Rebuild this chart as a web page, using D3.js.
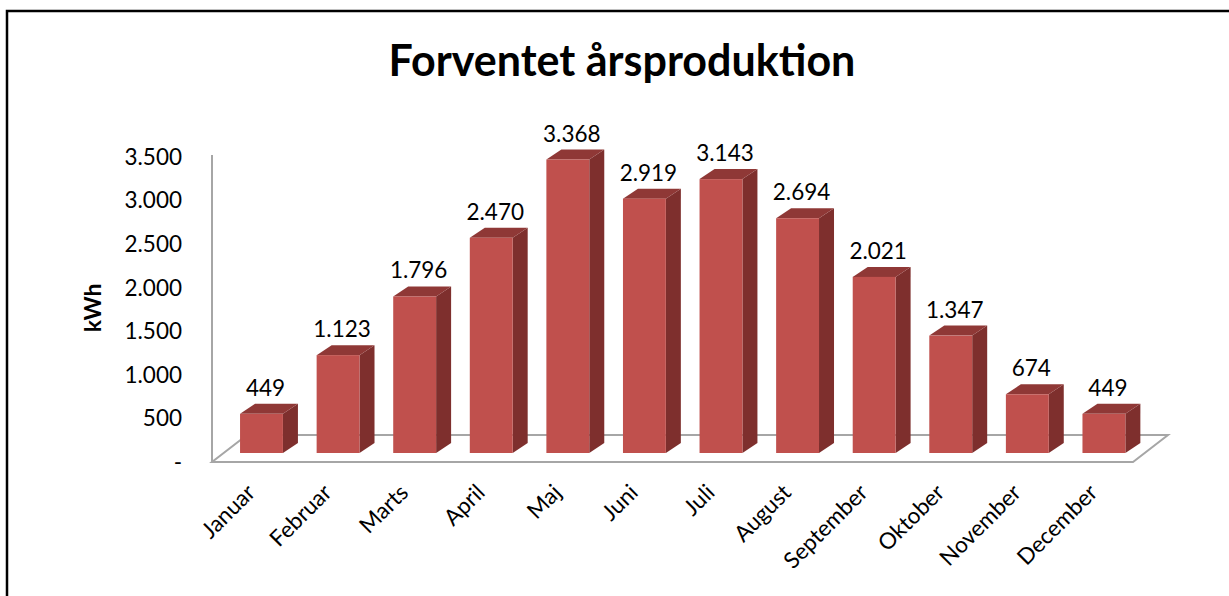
<!DOCTYPE html>
<html><head><meta charset="utf-8">
<script src="https://cdn.jsdelivr.net/npm/d3@7"></script>
<style>body{margin:0;background:#fff}svg{display:block}</style>
</head><body>
<script>
const months = ["Januar","Februar","Marts","April","Maj","Juni","Juli","August","September","Oktober","November","December"];
const values = [449,1123,1796,2470,3368,2919,3143,2694,2021,1347,674,449];
const yTicks = [0,500,1000,1500,2000,2500,3000,3500];
const title = "Forventet årsproduktion";
const yTitle = "kWh";

const W=1229,H=596;
const fmt = v => v===0 ? "-" : d3.format(",")(v).replace(/,/g,".");
const svg = d3.select("body").append("svg").attr("width",W).attr("height",H);
const font = "Lato, 'Open Sans', sans-serif";

// border
svg.append("path").attr("d",`M7,${H} L7,11 L${W},11`).attr("fill","none").attr("stroke","#000").attr("stroke-width",2.5);

// title
const t = svg.append("text").attr("x",622).attr("y",76).attr("text-anchor","middle")
  .attr("font-family",font).attr("font-weight","bold").attr("font-size",40).attr("fill","#000").text(title);
const tw = t.node().getComputedTextLength(); t.attr("font-size",40*467/tw);

const y = d3.scaleLinear().domain([0,3500]).range([462,157]);
const x = d3.scaleBand().domain(months).range([223.2,1142.2]).paddingInner(0.44).paddingOuter(0.22);
const floorL=212, floorR=1133, fdx=35, fdy=27;
const bdx=15, bdy=10, inDy=9;

// floor
svg.append("path").attr("d",`M${floorL},${y(0)} L${floorR},${y(0)} L${floorR+fdx},${y(0)-fdy} L${floorL+fdx},${y(0)-fdy} Z`)
  .attr("fill","#fff").attr("stroke","#a6a6a6").attr("stroke-width",2);
// vertical axis line
svg.append("line").attr("x1",floorL).attr("x2",floorL).attr("y1",y(0)).attr("y2",y(3500)-2).attr("stroke","#a6a6a6").attr("stroke-width",2);

// y ticks
svg.append("g").selectAll("text").data(yTicks).join("text")
  .attr("x",182).attr("y",d=>y(d)).attr("dy","0.35em").attr("text-anchor","end")
  .attr("font-family",font).attr("font-size",22.5).attr("fill","#000").text(fmt);
svg.append("text").attr("transform",`translate(101,308) rotate(-90)`).attr("text-anchor","middle")
  .attr("font-family",font).attr("font-weight","bold").attr("font-size",23).text(yTitle);

// bars
const data = months.map((m,i)=>({m,v:values[i]}));
const g = svg.append("g");
data.forEach(d=>{
  const x0 = x(d.m), x1 = x0 + x.bandwidth();
  const yb = y(0)-inDy, yt = y(d.v)-inDy;
  const bg = g.append("g");
  bg.append("path").attr("d",`M${x1},${yb} L${x1+bdx},${yb-bdy} L${x1+bdx},${yt-bdy} L${x1},${yt} Z`).attr("fill","#7e2f2d");
  bg.append("path").attr("d",`M${x0},${yt} L${x1},${yt} L${x1+bdx},${yt-bdy} L${x0+bdx},${yt-bdy} Z`).attr("fill","#8f3836");
  bg.append("rect").attr("x",x0).attr("y",yt).attr("width",x.bandwidth()).attr("height",yb-yt).attr("fill","#c0504d");
  g.append("text").attr("x",(x0+x1)/2+4).attr("y",yt-bdy-8).attr("text-anchor","middle")
    .attr("font-family",font).attr("font-size",22.5).attr("fill","#000").text(fmt(d.v));
});

// x labels
svg.append("g").selectAll("text").data(months).join("text")
  .attr("transform",m=>`translate(${x(m)+x.bandwidth()/2-5},${494}) rotate(-45)`)
  .attr("text-anchor","end").attr("font-family",font).attr("font-size",22.5).attr("fill","#000").text(m=>m);
</script>
</body></html>
